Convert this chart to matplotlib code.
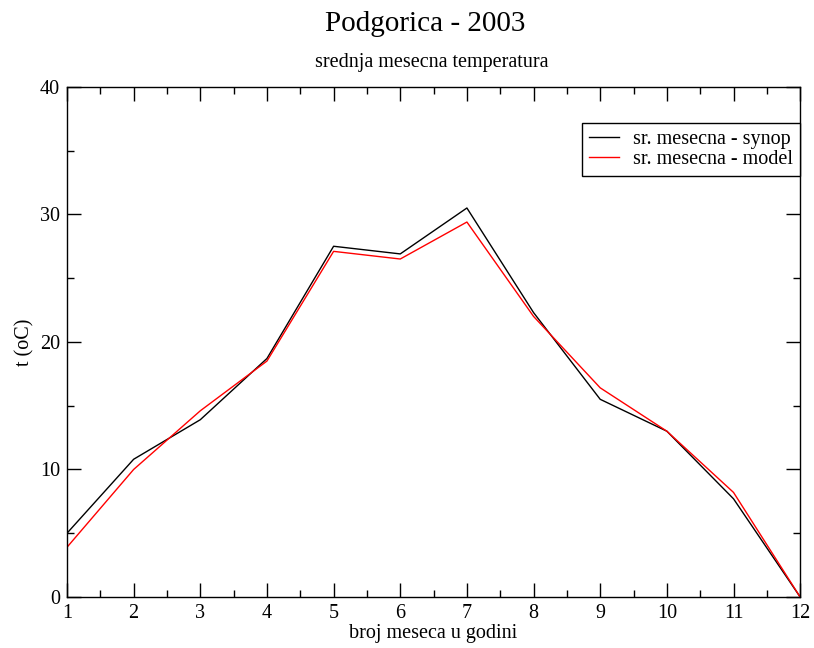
import matplotlib
matplotlib.use("Agg")
import matplotlib.pyplot as plt
from matplotlib.ticker import MultipleLocator

# podaci - srednja mesecna temperatura
meseci = [1, 2, 3, 4, 5, 6, 7, 8, 9, 10, 11, 12]
synop = [5.0, 10.8, 13.9, 18.7, 27.5, 26.9, 30.5, 22.3, 15.5, 13.0, 7.7, 0.0]
model = [3.9, 10.0, 14.6, 18.5, 27.1, 26.5, 29.4, 22.0, 16.4, 13.0, 8.2, 0.0]

plt.rcParams['font.family'] = ['Liberation Serif', 'DejaVu Serif']

fig = plt.figure(figsize=(8.14, 6.48), dpi=100)
ax = fig.add_axes([0.0823, 0.0787, 0.9007, 0.7873])

ax.plot(meseci, synop, color='black', lw=1, label='sr. mesecna - synop')
ax.plot(meseci, model, color='red', lw=1, label='sr. mesecna - model')

ax.set_xlim(1, 12)
ax.set_ylim(0, 40)
ax.xaxis.set_major_locator(MultipleLocator(1))
ax.xaxis.set_minor_locator(MultipleLocator(0.5))
ax.yaxis.set_major_locator(MultipleLocator(10))
ax.yaxis.set_minor_locator(MultipleLocator(5))
ax.tick_params(which='both', direction='in', top=True, right=True, width=1, labelsize=14.5)
ax.tick_params(which='major', length=10, pad=5)
ax.tick_params(which='minor', length=5)
for s in ax.spines.values():
    s.set_linewidth(1)

ax.set_xlabel('broj meseca u godini', fontsize=14.5, labelpad=1)
ax.set_ylabel('t (oC)', fontsize=14.5, labelpad=4)

fig.text(0.522, 0.963, 'Podgorica - 2003', ha='center', va='center', fontsize=21)
fig.text(0.531, 0.903, 'srednja mesecna temperatura', ha='center', va='center', fontsize=14.5)

leg = ax.legend(loc='upper right', bbox_to_anchor=(1.0, 0.929), fontsize=14.5,
                frameon=True, fancybox=False, edgecolor='black', framealpha=1,
                borderaxespad=0, handlelength=1.5, borderpad=0.35,
                labelspacing=0.05, handletextpad=0.7)
leg.get_frame().set_linewidth(1)

fig.savefig('out.png', dpi=100)
